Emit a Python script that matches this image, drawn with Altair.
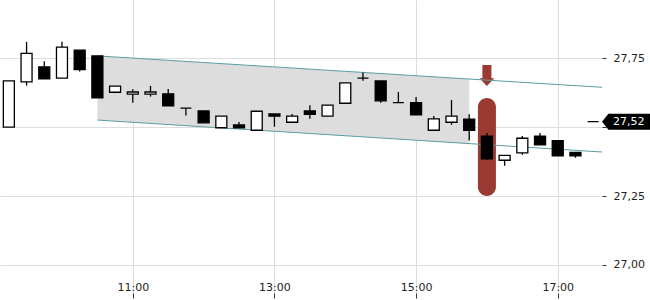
import altair as alt
import pandas as pd

# ---- candle data (15-minute bars) ----
times = ["09:15", "09:30", "09:45", "10:00", "10:15", "10:30", "10:45", "11:00",
         "11:15", "11:30", "11:45", "12:00", "12:15", "12:30", "12:45", "13:00",
         "13:15", "13:30", "13:45", "14:00", "14:15", "14:30", "14:45", "15:00",
         "15:15", "15:30", "15:45", "16:00", "16:15", "16:30", "16:45", "17:00",
         "17:15", "17:30"]
opens = [27.500, 27.665, 27.719, 27.678, 27.780, 27.759, 27.627, 27.620,
         27.620, 27.621, 27.569, 27.559, 27.498, 27.508, 27.489, 27.548,
         27.518, 27.559, 27.540, 27.587, 27.678, 27.668, 27.589, 27.589,
         27.489, 27.518, 27.529, 27.468, 27.380, 27.407, 27.468, 27.451,
         27.409, 27.520]
highs = [27.668, 27.810, 27.740, 27.810, 27.780, 27.759, 27.649, 27.638,
         27.650, 27.639, 27.569, 27.559, 27.540, 27.519, 27.558, 27.548,
         27.548, 27.580, 27.580, 27.661, 27.699, 27.668, 27.628, 27.610,
         27.541, 27.599, 27.547, 27.479, 27.398, 27.468, 27.479, 27.451,
         27.409, 27.520]
lows = [27.500, 27.651, 27.676, 27.678, 27.702, 27.607, 27.627, 27.589,
        27.611, 27.578, 27.543, 27.516, 27.498, 27.498, 27.489, 27.502,
        27.518, 27.531, 27.540, 27.587, 27.669, 27.589, 27.589, 27.545,
        27.489, 27.509, 27.452, 27.381, 27.360, 27.400, 27.436, 27.396,
        27.389, 27.520]
closes = [27.668, 27.768, 27.676, 27.791, 27.709, 27.607, 27.649, 27.628,
          27.628, 27.578, 27.569, 27.516, 27.540, 27.498, 27.558, 27.540,
          27.540, 27.547, 27.580, 27.661, 27.678, 27.596, 27.589, 27.545,
          27.530, 27.540, 27.489, 27.385, 27.398, 27.460, 27.436, 27.396,
          27.396, 27.520]

# ---- trend channel ----
band_hours = [10.5, 15.75]
band_upper = [27.759, 27.675]
band_lower = [27.526, 27.440]
line_hours = [10.5, 17.625]
line_upper = [27.759, 27.645]
line_lower = [27.526, 27.410]

# ---- signal marker ----
signal_hour = [16.0]
pill_top = [27.606]
pill_bottom = [27.250]
arrow_price = [27.686]

# ---- last price ----
last_price = [27.52]
last_label = ["27,52"]

# ---- axes ----
x_domain = [9.125, 17.625]
y_domain = [26.898, 27.962]
x_ticks = [11, 13, 15, 17]
y_ticks = [27.0, 27.25, 27.5, 27.75]


def to_hour(s):
    h, m = s.split(":")
    return int(h) + int(m) / 60.0


candles = pd.DataFrame({
    "t": [to_hour(s) for s in times],
    "open": opens, "high": highs, "low": lows, "close": closes,
})
candles["up"] = candles["close"] >= candles["open"]

band = pd.DataFrame({"t": band_hours, "hi": band_upper, "lo": band_lower})
lines = pd.DataFrame({
    "t": line_hours * 2,
    "p": line_upper + line_lower,
    "which": ["upper"] * 2 + ["lower"] * 2,
})
signal = pd.DataFrame({"t": signal_hour, "top": pill_top, "bottom": pill_bottom,
                       "arrow": arrow_price})
last = pd.DataFrame({"t": [x_domain[1]], "p": last_price, "label": last_label})

FONT = "DejaVu Sans"
xscale = alt.Scale(domain=x_domain, nice=False, zero=False, padding=0)
yscale = alt.Scale(domain=y_domain, nice=False, zero=False, padding=0)
xax = alt.Axis(values=x_ticks, title=None, grid=True, gridColor="#dddddd",
               domain=False, tickSize=5, tickColor="#333333",
               labelExpr="datum.value + ':00'", labelPadding=-8,
               labelBaseline="alphabetic", labelFont=FONT, labelFontSize=11,
               labelColor="#222222", labelFlush=False)
yax = alt.Axis(values=y_ticks, title=None, orient="right", grid=True,
               gridColor="#dddddd", domain=False, tickSize=4,
               tickColor="#333333", labelPadding=7,
               labelExpr=("datum.value == 27.5 ? '' : "
                          "replace(format(datum.value, '.2f'), '.', ',')"),
               labelFont=FONT, labelFontSize=11, labelColor="#222222")


def X(field="t"):
    return alt.X(f"{field}:Q", scale=xscale, axis=xax)


def Y(field):
    return alt.Y(f"{field}:Q", scale=yscale, axis=yax)


band_layer = alt.Chart(band).mark_area(color="#dddddd", opacity=1).encode(
    x=X(), y=Y("hi"), y2="lo:Q")

arrow_path = ("M-0.41,-1 L0.41,-1 L0.41,0.2 L0.68,0.2 L0,0.9 "
              "L-0.68,0.2 L-0.41,0.2 Z")
arrow_layer = alt.Chart(signal).mark_point(
    shape=arrow_path, filled=True, size=484, color="#9b3a33", opacity=1,
    strokeWidth=0).encode(x=X(), y=Y("arrow"))

pill_layer = alt.Chart(signal).mark_bar(
    size=18, cornerRadius=9, color="#9b3a33").encode(
    x=X(), y=Y("top"), y2="bottom:Q")

line_layer = alt.Chart(lines).mark_line(color="#5b9ea0", strokeWidth=1).encode(
    x=X(), y=Y("p"), detail="which:N")

wick_layer = alt.Chart(candles).mark_rule(color="black", strokeWidth=1.3).encode(
    x=X(), y=Y("low"), y2="high:Q")

body_layer = alt.Chart(candles).mark_bar(
    size=11, stroke="black", strokeWidth=1.3).encode(
    x=X(), y=Y("open"), y2="close:Q",
    fill=alt.condition("datum.up", alt.value("white"), alt.value("black")))

label_path = "M0,0 L0.8,-1 L6,-1 L6,1 L0.8,1 Z"
label_bg = alt.Chart(last).mark_point(
    shape=label_path, filled=True, size=256, color="black", opacity=1,
    strokeWidth=0).encode(x=X(), y=Y("p"))
label_text = alt.Chart(last).mark_text(
    align="left", baseline="middle", dx=11, color="white", font=FONT,
    fontSize=11).encode(x=X(), y=Y("p"), text="label:N")

chart = alt.layer(
    band_layer, arrow_layer, pill_layer, line_layer, wick_layer, body_layer,
    label_bg, label_text
).properties(
    width=602, height=293,
    background="white",
    autosize=alt.AutoSizeParams(type="none"),
    padding={"left": 0, "top": 0, "right": 48, "bottom": 7},
).configure_view(stroke=None)

chart.save("out.html", embed_options={"renderer": "svg", "actions": False})
